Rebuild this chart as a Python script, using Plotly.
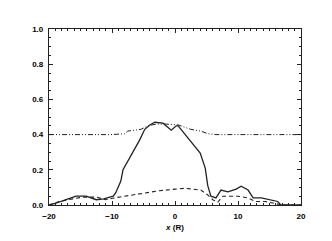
import plotly.graph_objects as go

# Solid curve
x_solid = [-20, -18.9, -17.3, -15.7, -14.1, -12.5, -11.3, -9.8, -9.4, -8.6, -8.25, -7.0, -5.6, -4.8,
           -4.0, -3.2, -1.9, -0.6, 0.2, 0.5, 2.1, 4.0, 4.8, 5.2, 5.7, 6.5, 7.3, 8.4, 9.7, 10.5,
           11.6, 12.4, 13.7, 14.8, 16.3, 16.8, 18.0, 20.0]
y_solid = [0.0, 0.01, 0.03, 0.05, 0.05, 0.03, 0.035, 0.05, 0.07, 0.136, 0.2, 0.28, 0.37, 0.43,
           0.455, 0.47, 0.465, 0.425, 0.45, 0.45, 0.38, 0.295, 0.21, 0.11, 0.05, 0.04, 0.085, 0.075, 0.09, 0.107,
           0.085, 0.04, 0.04, 0.03, 0.02, 0.0, 0.0, 0.0]

# Dashed curve
x_dash = [-20, -18.4, -16.2, -14.6, -12.5, -11.0, -9.7, -7.9, -5.4, -2.7, 0.0, 1.6, 4.1, 5.2,
          6.0, 6.8, 7.6, 8.7, 10.0, 11.6, 12.7, 14.3, 15.9, 17.0, 20.0]
y_dash = [0.0, 0.02, 0.035, 0.045, 0.045, 0.03, 0.04, 0.05, 0.068, 0.08, 0.09, 0.095, 0.085, 0.057,
          0.03, 0.017, 0.05, 0.05, 0.05, 0.04, 0.02, 0.02, 0.01, 0.0, 0.0]

# Dash-dot curve
x_dd = [-20, -10, -8.0, -7.5, -5.4, -4.3, -3.0, -1.5, 0.5, 2.5, 4.1, 5.2, 6.5, 10, 20]
y_dd = [0.4, 0.4, 0.405, 0.42, 0.43, 0.45, 0.46, 0.46, 0.455, 0.43, 0.42, 0.405, 0.4, 0.4, 0.4]

fig = go.Figure()
fig.add_trace(go.Scatter(x=x_dd, y=y_dd, mode="lines",
                         line=dict(color="#222", width=1, dash="5px,2px,1px,2px,1px,2px")))
fig.add_trace(go.Scatter(x=x_dash, y=y_dash, mode="lines",
                         line=dict(color="#222", width=1.1, dash="4px,3px")))
fig.add_trace(go.Scatter(x=x_solid, y=y_solid, mode="lines",
                         line=dict(color="#222", width=1.3)))

font = dict(family="Liberation Sans", size=8, color="black", weight="bold")
fig.update_layout(
    width=332, height=241,
    margin=dict(l=41, r=39, t=21, b=44),
    paper_bgcolor="white", plot_bgcolor="white",
    showlegend=False,
    font=font,
    xaxis=dict(range=[-20, 20], tickvals=[-20, -10, 0, 10, 20], ticks="inside", ticklen=4,
               tickwidth=1, tickcolor="#222", showline=True, linecolor="#222", linewidth=1.2,
               mirror="ticks", showgrid=False, zeroline=False,
               minor=dict(dtick=1, ticks="inside", ticklen=2, tickcolor="#222", showgrid=False),
               title=dict(text="<i>x</i> (R)", font=font, standoff=4),
               tickfont=font, ticklabelstandoff=3),
    yaxis=dict(range=[0, 1], tickvals=[0, 0.2, 0.4, 0.6, 0.8, 1.0], tickformat=".1f",
               ticks="inside", ticklen=4, tickwidth=1, tickcolor="#222",
               showline=True, linecolor="#222", linewidth=1.2, mirror="ticks",
               showgrid=False, zeroline=False,
               minor=dict(dtick=0.05, ticks="inside", ticklen=2, tickcolor="#222", showgrid=False),
               tickfont=font, ticklabelstandoff=3),
)

fig.write_html("out.html")
